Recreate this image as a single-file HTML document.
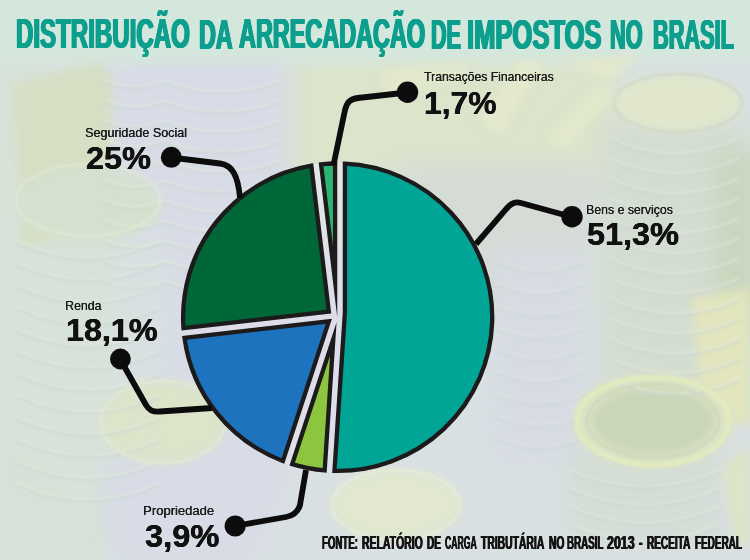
<!DOCTYPE html>
<html><head><meta charset="utf-8">
<style>
html,body{margin:0;padding:0;}
body{width:750px;height:560px;overflow:hidden;position:relative;background:#dde5e3;font-family:"Liberation Sans",sans-serif;}
#bg{position:absolute;left:0;top:0;}
#chart{position:absolute;left:0;top:0;}
.t{position:absolute;white-space:nowrap;transform-origin:0 0;line-height:1;}
.sm{font-size:12.8px;color:#1b1b1b;text-shadow:0.35px 0 0 #1b1b1b;}
.big{font-size:31.2px;font-weight:bold;color:#111;text-shadow:0.3px 0 0 #111,-0.3px 0 0 #111;}
.tw{font-size:42.7px;font-weight:bold;color:#0d9f8e;text-shadow:1.4px 0 0 #0d9f8e,-1.4px 0 0 #0d9f8e,0.7px 0 0 #0d9f8e,-0.7px 0 0 #0d9f8e;}
.fw{font-size:18.3px;font-weight:bold;color:#141414;text-shadow:0.7px 0 0 #141414,-0.7px 0 0 #141414;}
</style></head><body>
<svg id="bg" width="750" height="560" viewBox="0 0 750 560">
<defs>
<filter id="b1" x="-10%" y="-10%" width="120%" height="120%"><feGaussianBlur stdDeviation="0.8"/></filter>
<filter id="b5" x="-30%" y="-30%" width="160%" height="160%"><feGaussianBlur stdDeviation="5"/></filter>
<filter id="b12" x="-50%" y="-50%" width="200%" height="200%"><feGaussianBlur stdDeviation="12"/></filter>
<linearGradient id="gtop" x1="0" y1="0" x2="0" y2="1"><stop offset="0" stop-color="#d4e7dc"/><stop offset="0.75" stop-color="#d4e7dc"/><stop offset="1" stop-color="#d4e7dc" stop-opacity="0"/></linearGradient>
</defs>
<rect width="750" height="560" fill="#d9e0e2"/>
<g filter="url(#b12)">
<rect x="-20" y="60" width="135" height="500" fill="#d7e2d9"/>
<polygon points="105,55 290,55 290,470 250,560 110,560 100,470 165,420 165,235 105,205" fill="#d8dce6"/>
<rect x="290" y="52" width="330" height="125" fill="#dce4cc"/>
<rect x="400" y="165" width="190" height="150" fill="#d5dcd6"/>
<rect x="600" y="120" width="150" height="300" fill="#d4ddd1"/>
<rect x="715" y="150" width="45" height="180" fill="#c9d6bc"/>
<rect x="495" y="250" width="90" height="210" fill="#d7dce4"/>
<rect x="570" y="440" width="150" height="100" fill="#d4ddd6"/>
</g>
<rect width="750" height="72" fill="url(#gtop)"/>
<g filter="url(#b5)">
<polygon points="12,85 100,62 112,80 108,238 22,245" fill="#d6dfc4"/>
<ellipse cx="88" cy="205" rx="72" ry="38" fill="#d5e1cf"/>
<ellipse cx="678" cy="103" rx="64" ry="29" fill="#e0e7cc"/>
<polygon points="692,298 750,288 750,424 702,420" fill="#e2e5be"/>
<ellipse cx="653" cy="421" rx="80" ry="46" fill="#dce4c4"/>
<ellipse cx="653" cy="421" rx="62" ry="34" fill="#cad6b8"/>
<ellipse cx="163" cy="422" rx="62" ry="41" fill="#dce4ca"/>
<ellipse cx="396" cy="505" rx="64" ry="35" fill="#e1e8cf"/>
<polygon points="0,440 40,470 100,540 100,560 0,560" fill="#d6e2d7"/>
<polygon points="722,468 750,445 750,545 736,545" fill="#dde5c6"/>
</g>
<g fill="none" stroke-width="1.6" filter="url(#b1)">
<path d="M16,240.0 Q88,274.0 160,240.0" stroke="#e3e9dc" opacity="0.7"/>
<path d="M16,243.0 Q88,277.0 160,243.0" stroke="#ccd5d2" opacity="0.7"/>
<path d="M16,262.0 Q88,296.0 160,262.0" stroke="#e3e9dc" opacity="0.7"/>
<path d="M16,265.0 Q88,299.0 160,265.0" stroke="#ccd5d2" opacity="0.7"/>
<path d="M16,284.0 Q88,318.0 160,284.0" stroke="#e3e9dc" opacity="0.7"/>
<path d="M16,287.0 Q88,321.0 160,287.0" stroke="#ccd5d2" opacity="0.7"/>
<path d="M16,306.0 Q88,340.0 160,306.0" stroke="#e3e9dc" opacity="0.7"/>
<path d="M16,309.0 Q88,343.0 160,309.0" stroke="#ccd5d2" opacity="0.7"/>
<path d="M16,328.0 Q88,362.0 160,328.0" stroke="#e3e9dc" opacity="0.7"/>
<path d="M16,331.0 Q88,365.0 160,331.0" stroke="#ccd5d2" opacity="0.7"/>
<path d="M16,350.0 Q88,384.0 160,350.0" stroke="#e3e9dc" opacity="0.7"/>
<path d="M16,353.0 Q88,387.0 160,353.0" stroke="#ccd5d2" opacity="0.7"/>
<path d="M16,372.0 Q88,406.0 160,372.0" stroke="#e3e9dc" opacity="0.7"/>
<path d="M16,375.0 Q88,409.0 160,375.0" stroke="#ccd5d2" opacity="0.7"/>
<path d="M16,394.0 Q88,428.0 160,394.0" stroke="#e3e9dc" opacity="0.7"/>
<path d="M16,397.0 Q88,431.0 160,397.0" stroke="#ccd5d2" opacity="0.7"/>
<path d="M16,416.0 Q88,450.0 160,416.0" stroke="#e3e9dc" opacity="0.7"/>
<path d="M16,419.0 Q88,453.0 160,419.0" stroke="#ccd5d2" opacity="0.7"/>
<path d="M16,438.0 Q88,472.0 160,438.0" stroke="#e3e9dc" opacity="0.7"/>
<path d="M16,441.0 Q88,475.0 160,441.0" stroke="#ccd5d2" opacity="0.7"/>
<path d="M16,460.0 Q88,494.0 160,460.0" stroke="#e3e9dc" opacity="0.7"/>
<path d="M16,463.0 Q88,497.0 160,463.0" stroke="#ccd5d2" opacity="0.7"/>
<path d="M16,482.0 Q88,516.0 160,482.0" stroke="#e3e9dc" opacity="0.7"/>
<path d="M16,485.0 Q88,519.0 160,485.0" stroke="#ccd5d2" opacity="0.7"/>
<path d="M105,80.0 Q135,92.0 165,80.0" stroke="#e3e9dc" opacity="0.7"/>
<path d="M105,83.0 Q135,95.0 165,83.0" stroke="#ccd5d2" opacity="0.7"/>
<path d="M105,100.0 Q135,112.0 165,100.0" stroke="#e3e9dc" opacity="0.7"/>
<path d="M105,103.0 Q135,115.0 165,103.0" stroke="#ccd5d2" opacity="0.7"/>
<path d="M105,120.0 Q135,132.0 165,120.0" stroke="#e3e9dc" opacity="0.7"/>
<path d="M105,123.0 Q135,135.0 165,123.0" stroke="#ccd5d2" opacity="0.7"/>
<path d="M105,140.0 Q135,152.0 165,140.0" stroke="#e3e9dc" opacity="0.7"/>
<path d="M105,143.0 Q135,155.0 165,143.0" stroke="#ccd5d2" opacity="0.7"/>
<path d="M105,160.0 Q135,172.0 165,160.0" stroke="#e3e9dc" opacity="0.7"/>
<path d="M105,163.0 Q135,175.0 165,163.0" stroke="#ccd5d2" opacity="0.7"/>
<path d="M105,180.0 Q135,192.0 165,180.0" stroke="#e3e9dc" opacity="0.7"/>
<path d="M105,183.0 Q135,195.0 165,183.0" stroke="#ccd5d2" opacity="0.7"/>
<path d="M105,200.0 Q135,212.0 165,200.0" stroke="#e3e9dc" opacity="0.7"/>
<path d="M105,203.0 Q135,215.0 165,203.0" stroke="#ccd5d2" opacity="0.7"/>
<path d="M105,220.0 Q135,232.0 165,220.0" stroke="#e3e9dc" opacity="0.7"/>
<path d="M105,223.0 Q135,235.0 165,223.0" stroke="#ccd5d2" opacity="0.7"/>
<path d="M105,240.0 Q135,252.0 165,240.0" stroke="#e3e9dc" opacity="0.7"/>
<path d="M105,243.0 Q135,255.0 165,243.0" stroke="#ccd5d2" opacity="0.7"/>
<path d="M105,260.0 Q135,272.0 165,260.0" stroke="#e3e9dc" opacity="0.7"/>
<path d="M105,263.0 Q135,275.0 165,263.0" stroke="#ccd5d2" opacity="0.7"/>
<path d="M105,280.0 Q135,292.0 165,280.0" stroke="#e3e9dc" opacity="0.7"/>
<path d="M105,283.0 Q135,295.0 165,283.0" stroke="#ccd5d2" opacity="0.7"/>
<path d="M164,80.0 Q222,102.0 280,80.0" stroke="#e3e9dc" opacity="0.7"/>
<path d="M164,83.0 Q222,105.0 280,83.0" stroke="#ccd5d2" opacity="0.7"/>
<path d="M164,100.0 Q222,122.0 280,100.0" stroke="#e3e9dc" opacity="0.7"/>
<path d="M164,103.0 Q222,125.0 280,103.0" stroke="#ccd5d2" opacity="0.7"/>
<path d="M164,120.0 Q222,142.0 280,120.0" stroke="#e3e9dc" opacity="0.7"/>
<path d="M164,123.0 Q222,145.0 280,123.0" stroke="#ccd5d2" opacity="0.7"/>
<path d="M164,140.0 Q222,162.0 280,140.0" stroke="#e3e9dc" opacity="0.7"/>
<path d="M164,143.0 Q222,165.0 280,143.0" stroke="#ccd5d2" opacity="0.7"/>
<path d="M164,160.0 Q222,182.0 280,160.0" stroke="#e3e9dc" opacity="0.7"/>
<path d="M164,163.0 Q222,185.0 280,163.0" stroke="#ccd5d2" opacity="0.7"/>
<path d="M164,180.0 Q222,202.0 280,180.0" stroke="#e3e9dc" opacity="0.7"/>
<path d="M164,183.0 Q222,205.0 280,183.0" stroke="#ccd5d2" opacity="0.7"/>
<path d="M164,200.0 Q222,222.0 280,200.0" stroke="#e3e9dc" opacity="0.7"/>
<path d="M164,203.0 Q222,225.0 280,203.0" stroke="#ccd5d2" opacity="0.7"/>
<path d="M164,220.0 Q222,242.0 280,220.0" stroke="#e3e9dc" opacity="0.7"/>
<path d="M164,223.0 Q222,245.0 280,223.0" stroke="#ccd5d2" opacity="0.7"/>
<path d="M164,240.0 Q222,262.0 280,240.0" stroke="#e3e9dc" opacity="0.7"/>
<path d="M164,243.0 Q222,265.0 280,243.0" stroke="#ccd5d2" opacity="0.7"/>
<path d="M164,260.0 Q222,282.0 280,260.0" stroke="#e3e9dc" opacity="0.7"/>
<path d="M164,263.0 Q222,285.0 280,263.0" stroke="#ccd5d2" opacity="0.7"/>
<path d="M164,280.0 Q222,302.0 280,280.0" stroke="#e3e9dc" opacity="0.7"/>
<path d="M164,283.0 Q222,305.0 280,283.0" stroke="#ccd5d2" opacity="0.7"/>
<path d="M611,138.0 Q675,168.0 739,138.0" stroke="#e3e9dc" opacity="0.7"/>
<path d="M611,141.0 Q675,171.0 739,141.0" stroke="#ccd5d2" opacity="0.7"/>
<path d="M611,158.0 Q675,188.0 739,158.0" stroke="#e3e9dc" opacity="0.7"/>
<path d="M611,161.0 Q675,191.0 739,161.0" stroke="#ccd5d2" opacity="0.7"/>
<path d="M611,178.0 Q675,208.0 739,178.0" stroke="#e3e9dc" opacity="0.7"/>
<path d="M611,181.0 Q675,211.0 739,181.0" stroke="#ccd5d2" opacity="0.7"/>
<path d="M611,198.0 Q675,228.0 739,198.0" stroke="#e3e9dc" opacity="0.7"/>
<path d="M611,201.0 Q675,231.0 739,201.0" stroke="#ccd5d2" opacity="0.7"/>
<path d="M611,218.0 Q675,248.0 739,218.0" stroke="#e3e9dc" opacity="0.7"/>
<path d="M611,221.0 Q675,251.0 739,221.0" stroke="#ccd5d2" opacity="0.7"/>
<path d="M611,238.0 Q675,268.0 739,238.0" stroke="#e3e9dc" opacity="0.7"/>
<path d="M611,241.0 Q675,271.0 739,241.0" stroke="#ccd5d2" opacity="0.7"/>
<path d="M611,258.0 Q675,288.0 739,258.0" stroke="#e3e9dc" opacity="0.7"/>
<path d="M611,261.0 Q675,291.0 739,261.0" stroke="#ccd5d2" opacity="0.7"/>
<path d="M611,278.0 Q675,308.0 739,278.0" stroke="#e3e9dc" opacity="0.7"/>
<path d="M611,281.0 Q675,311.0 739,281.0" stroke="#ccd5d2" opacity="0.7"/>
<path d="M611,298.0 Q675,328.0 739,298.0" stroke="#e3e9dc" opacity="0.7"/>
<path d="M611,301.0 Q675,331.0 739,301.0" stroke="#ccd5d2" opacity="0.7"/>
<path d="M611,318.0 Q675,348.0 739,318.0" stroke="#e3e9dc" opacity="0.7"/>
<path d="M611,321.0 Q675,351.0 739,321.0" stroke="#ccd5d2" opacity="0.7"/>
<path d="M611,338.0 Q675,368.0 739,338.0" stroke="#e3e9dc" opacity="0.7"/>
<path d="M611,341.0 Q675,371.0 739,341.0" stroke="#ccd5d2" opacity="0.7"/>
<path d="M611,358.0 Q675,388.0 739,358.0" stroke="#e3e9dc" opacity="0.7"/>
<path d="M611,361.0 Q675,391.0 739,361.0" stroke="#ccd5d2" opacity="0.7"/>
<path d="M611,378.0 Q675,408.0 739,378.0" stroke="#e3e9dc" opacity="0.7"/>
<path d="M611,381.0 Q675,411.0 739,381.0" stroke="#ccd5d2" opacity="0.7"/>
<path d="M571,470.0 Q645,502.0 719,470.0" stroke="#e3e9dc" opacity="0.7"/>
<path d="M571,473.0 Q645,505.0 719,473.0" stroke="#ccd5d2" opacity="0.7"/>
<path d="M571,488.0 Q645,520.0 719,488.0" stroke="#e3e9dc" opacity="0.7"/>
<path d="M571,491.0 Q645,523.0 719,491.0" stroke="#ccd5d2" opacity="0.7"/>
<path d="M571,506.0 Q645,538.0 719,506.0" stroke="#e3e9dc" opacity="0.7"/>
<path d="M571,509.0 Q645,541.0 719,509.0" stroke="#ccd5d2" opacity="0.7"/>
<path d="M571,524.0 Q645,556.0 719,524.0" stroke="#e3e9dc" opacity="0.7"/>
<path d="M571,527.0 Q645,559.0 719,527.0" stroke="#ccd5d2" opacity="0.7"/>
<path d="M495,260.0 Q540,280.0 585,260.0" stroke="#e3e9dc" opacity="0.5"/>
<path d="M495,263.0 Q540,283.0 585,263.0" stroke="#ccd5d2" opacity="0.5"/>
<path d="M495,282.0 Q540,302.0 585,282.0" stroke="#e3e9dc" opacity="0.5"/>
<path d="M495,285.0 Q540,305.0 585,285.0" stroke="#ccd5d2" opacity="0.5"/>
<path d="M495,304.0 Q540,324.0 585,304.0" stroke="#e3e9dc" opacity="0.5"/>
<path d="M495,307.0 Q540,327.0 585,307.0" stroke="#ccd5d2" opacity="0.5"/>
<path d="M495,326.0 Q540,346.0 585,326.0" stroke="#e3e9dc" opacity="0.5"/>
<path d="M495,329.0 Q540,349.0 585,329.0" stroke="#ccd5d2" opacity="0.5"/>
<path d="M495,348.0 Q540,368.0 585,348.0" stroke="#e3e9dc" opacity="0.5"/>
<path d="M495,351.0 Q540,371.0 585,351.0" stroke="#ccd5d2" opacity="0.5"/>
<path d="M495,370.0 Q540,390.0 585,370.0" stroke="#e3e9dc" opacity="0.5"/>
<path d="M495,373.0 Q540,393.0 585,373.0" stroke="#ccd5d2" opacity="0.5"/>
<path d="M495,392.0 Q540,412.0 585,392.0" stroke="#e3e9dc" opacity="0.5"/>
<path d="M495,395.0 Q540,415.0 585,395.0" stroke="#ccd5d2" opacity="0.5"/>
<path d="M495,414.0 Q540,434.0 585,414.0" stroke="#e3e9dc" opacity="0.5"/>
<path d="M495,417.0 Q540,437.0 585,417.0" stroke="#ccd5d2" opacity="0.5"/>
<path d="M495,436.0 Q540,456.0 585,436.0" stroke="#e3e9dc" opacity="0.5"/>
<path d="M495,439.0 Q540,459.0 585,439.0" stroke="#ccd5d2" opacity="0.5"/>
<ellipse cx="678" cy="103" rx="64" ry="29" stroke="#cdd8c4" stroke-width="2"/>
<ellipse cx="653" cy="421" rx="76" ry="44" stroke="#e2eabe" stroke-width="5"/>
<ellipse cx="653" cy="421" rx="66" ry="37" stroke="#cbd6bb" stroke-width="2"/>
<ellipse cx="88" cy="200" rx="72" ry="36" stroke="#e2e9d2" stroke-width="2"/>
<ellipse cx="163" cy="422" rx="62" ry="41" stroke="#e4ead0" stroke-width="2"/>
<ellipse cx="396" cy="505" rx="64" ry="35" stroke="#e8eed6" stroke-width="2"/>
</g>
<g filter="url(#b5)" opacity="0.8">
<polygon points="480,120 520,60 545,62 500,135" fill="#e6ebcc"/>
<polygon points="545,140 600,85 615,95 565,150" fill="#e4eacb"/>
<polygon points="380,70 470,60 465,80 385,95" fill="#e3e9cc"/>
<polygon points="560,60 640,55 610,80" fill="#e5eacb"/>
</g>
</svg>
<svg id="chart" width="750" height="560" viewBox="0 0 750 560">
<defs><linearGradient id="gap" x1="0" y1="0" x2="0" y2="1"><stop offset="0" stop-color="#e1e8e6"/><stop offset="0.5" stop-color="#dcdde9"/><stop offset="1" stop-color="#dfe0ea"/></linearGradient></defs>
<ellipse cx="337.6" cy="317.2" rx="156" ry="155.2" fill="url(#gap)"/>
<g stroke="#1c1a1a" stroke-width="4.3" stroke-linejoin="miter" stroke-miterlimit="20">
<path d="M344.90,312.62 L344.90,163.67 A154.5,153.7 0 0 1 334.46,470.87 Z" fill="#00a596"/>
<path d="M333.33,339.11 L324.67,470.36 A154.5,153.7 0 0 1 292.20,464.12 Z" fill="#8cc63f"/>
<path d="M328.85,321.38 L282.93,460.95 A154.5,153.7 0 0 1 184.50,337.84 Z" fill="#1e73be"/>
<path d="M328.85,311.52 L183.49,328.09 A154.5,153.7 0 0 1 311.35,165.73 Z" fill="#006838"/>
<path d="M335.10,281.37 L321.06,164.38 A154.5,153.7 0 0 1 335.10,163.52 Z" fill="#2bb673"/>
</g>
<g fill="none" stroke="#0c0c0c" stroke-width="5.8" stroke-linecap="butt" stroke-linejoin="round">
<path d="M171,157.5 L220,163.5 C232,165 238,175 240,198"/>
<path d="M407,92.5 L358,98 C350,99 347,102 345,110 L333.5,165"/>
<path d="M572,217 L521,203 C515,201.5 512,203 508,207 L476,244"/>
<path d="M120,359 L146,405 C149,410 152,412 160,411.5 L212,408"/>
<path d="M235,526 L286,517 C294,515.5 298,512 300,505 L306,470"/>
</g>
<g fill="#0c0c0c">
<circle cx="171.3" cy="157.3" r="10.5"/>
<circle cx="407.5" cy="92.3" r="10.7"/>
<circle cx="572" cy="216.8" r="10.7"/>
<circle cx="120.4" cy="359" r="10.4"/>
<circle cx="235.2" cy="526" r="10.6"/>
</g>
</svg>
<div id="t0" class="t tw" style="left:16.1px;top:12.4px;transform:scaleX(0.5639)">DISTRIBUIÇÃO</div>
<div id="t1" class="t tw" style="left:199.03px;top:12.6px;transform:scaleX(0.5467)">DA</div>
<div id="t2" class="t tw" style="left:239.09px;top:12.4px;transform:scaleX(0.5488)">ARRECADAÇÃO</div>
<div id="t3" class="t tw" style="left:431.02px;top:12.6px;transform:scaleX(0.5044)">DE</div>
<div id="t4" class="t tw" style="left:467.34px;top:12.6px;transform:scaleX(0.5989)">IMPOSTOS</div>
<div id="t5" class="t tw" style="left:610.09px;top:12.6px;transform:scaleX(0.509)">NO</div>
<div id="t6" class="t tw" style="left:653.09px;top:12.6px;transform:scaleX(0.5091)">BRASIL</div>
<div id="f0" class="t fw" style="left:321.77px;top:534.0px;transform:scaleX(0.5282)">FONTE:</div>
<div id="f1" class="t fw" style="left:362.0px;top:534px;transform:scaleX(0.572)">RELATÓRIO</div>
<div id="f2" class="t fw" style="left:427.0px;top:534.0px;transform:scaleX(0.5488)">DE</div>
<div id="f3" class="t fw" style="left:444.67px;top:534.0px;transform:scaleX(0.4743)">CARGA</div>
<div id="f4" class="t fw" style="left:480.79px;top:534px;transform:scaleX(0.5666)">TRIBUTÁRIA</div>
<div id="f5" class="t fw" style="left:548.92px;top:534.0px;transform:scaleX(0.5642)">NO</div>
<div id="f6" class="t fw" style="left:566.9px;top:534.0px;transform:scaleX(0.5352)">BRASIL</div>
<div id="f7" class="t fw" style="left:607.17px;top:534.0px;transform:scaleX(0.6795)">2013</div>
<div id="f8" class="t fw" style="left:639.1px;top:534px;transform:scaleX(0.57)">-</div>
<div id="f9" class="t fw" style="left:647.08px;top:534.0px;transform:scaleX(0.5499)">RECEITA</div>
<div id="f10" class="t fw" style="left:694.89px;top:534.0px;transform:scaleX(0.5446)">FEDERAL</div>
<div id="seg" class="t sm" style="left:85.02px;top:127.2px;transform:scaleX(0.9805)">Seguridade Social</div>
<div id="p25" class="t big" style="left:85.78px;top:143.0px;transform:scaleX(1.0404)">25%</div>
<div id="tf" class="t sm" style="left:423.6px;top:71.2px;transform:scaleX(0.9517)">Transações Financeiras</div>
<div id="p17" class="t big" style="left:423.94px;top:87.8px;transform:scaleX(1.0201)">1,7%</div>
<div id="bens" class="t sm" style="left:585.65px;top:203.8px;transform:scaleX(0.9597)">Bens e serviços</div>
<div id="p513" class="t big" style="left:586.96px;top:219.0px;transform:scaleX(1.0394)">51,3%</div>
<div id="renda" class="t sm" style="left:65.03px;top:300.2px;transform:scaleX(0.9632)">Renda</div>
<div id="p181" class="t big" style="left:66.1px;top:314.8px;transform:scaleX(1.0349)">18,1%</div>
<div id="prop" class="t sm" style="left:142.78px;top:505.2px;transform:scaleX(1.0181)">Propriedade</div>
<div id="p39" class="t big" style="left:144.54px;top:520.8px;transform:scaleX(1.0463)">3,9%</div>
</body></html>
